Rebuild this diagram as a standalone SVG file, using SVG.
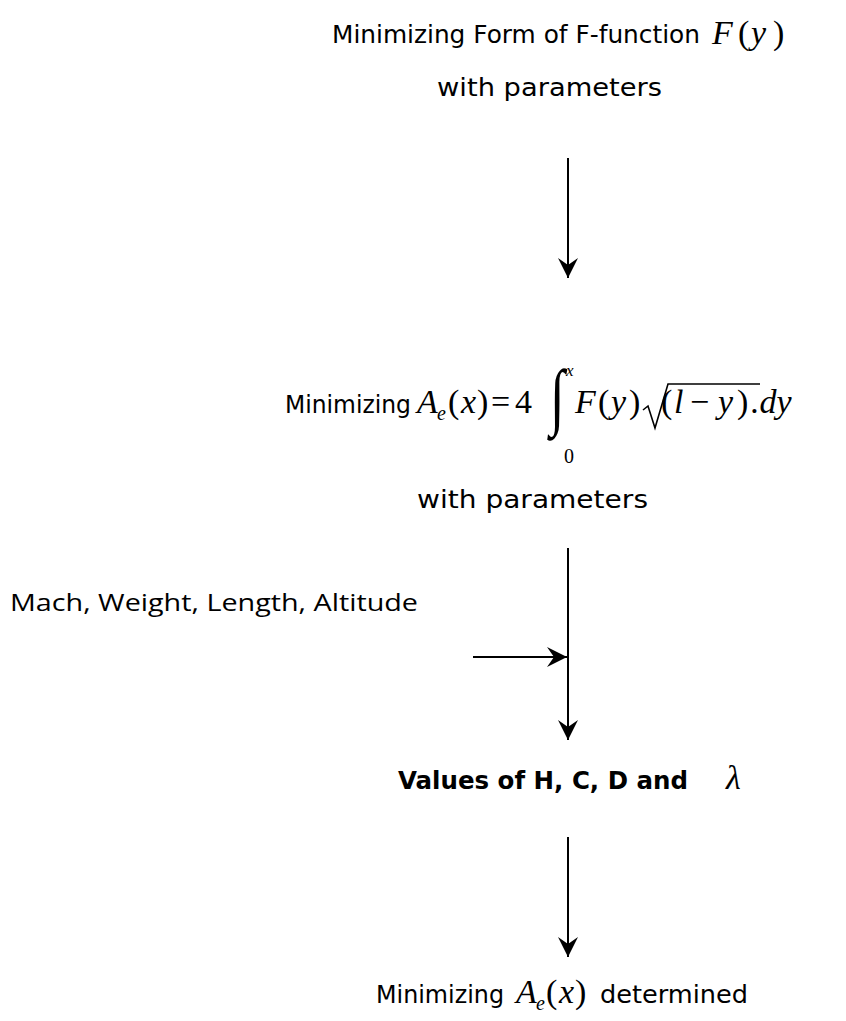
<svg xmlns="http://www.w3.org/2000/svg" width="846" height="1021" viewBox="0 0 846 1021">
<style>
.t{font-family:"DejaVu Sans","Verdana",sans-serif;font-size:25px;fill:#000}
.b{font-weight:bold}
.h{font-family:"Open Sans","Noto Sans",sans-serif;font-size:24px;fill:#000}
.m{font-family:"Liberation Serif","Times New Roman",serif;font-size:34px;fill:#000}
.mi{font-style:italic}
.sub{font-family:"Liberation Serif","Times New Roman",serif;font-size:20px;font-style:italic;fill:#000}
.c{stroke:#000;stroke-width:2;fill:none}
</style>
<defs>
<marker id="ah" markerUnits="userSpaceOnUse" markerWidth="22" markerHeight="22" viewBox="-21 -11 22 22" refX="0" refY="0" orient="auto">
<path d="M0,0 L-20,-10 L-13,0 L-20,10 Z" fill="#000"/>
</marker>
</defs>
<rect width="846" height="1021" fill="#fff"/>

<g id="n1">
<text class="t" x="332" y="43" textLength="368" lengthAdjust="spacingAndGlyphs">Minimizing Form of F-function</text>
<text class="m mi" x="712" y="44">F</text>
<text class="m" x="738" y="44">(</text>
<text class="m mi" x="751" y="44">y</text>
<text class="m" x="773" y="44">)</text>
<text class="t" x="437" y="96" textLength="225" lengthAdjust="spacingAndGlyphs">with parameters</text>
</g>

<g id="n2">
<text class="t" x="285" y="413" textLength="126" lengthAdjust="spacingAndGlyphs">Minimizing</text>
<text class="m mi" x="417" y="413">A</text>
<text class="sub" x="437" y="420">e</text>
<text class="m" x="448" y="413">(</text>
<text class="m mi" x="461" y="413">x</text>
<text class="m" x="477" y="413">)</text>
<text class="m" x="491" y="413">=</text>
<text class="m" x="515" y="413">4</text>
<text class="m" x="0" y="0" style="font-size:74px" transform="translate(550,421) scale(0.72,1)">∫</text>
<text class="sub" x="566" y="376" style="font-size:17px">x</text>
<text class="m" x="564" y="463" style="font-size:20px">0</text>
<text class="m mi" x="575" y="413">F</text>
<text class="m" x="598" y="413">(</text>
<text class="m mi" x="611" y="413">y</text>
<text class="m" x="629" y="413">)</text>
<path d="M643,410 L648,406 L655,428 L668,384 L760,384" stroke="#000" stroke-width="1.6" fill="none"/>
<text class="m" x="661" y="413">(</text>
<text class="m mi" x="674" y="413">l</text>
<text class="m" x="690" y="413">−</text>
<text class="m mi" x="718" y="413">y</text>
<text class="m" x="737" y="413">)</text>
<text class="m mi" x="751" y="413">.dy</text>
<text class="t" x="417" y="508" textLength="231" lengthAdjust="spacingAndGlyphs">with parameters</text>
</g>

<g id="n3">
<text class="h" x="10" y="611" textLength="408" lengthAdjust="spacingAndGlyphs">Mach, Weight, Length, Altitude</text>
</g>

<g id="n4">
<text class="t b" x="398" y="789" textLength="290" lengthAdjust="spacingAndGlyphs">Values of H, C, D and</text>
<text class="m mi" x="726" y="789">λ</text>
</g>

<g id="n5">
<text class="t" x="376" y="1003" textLength="128" lengthAdjust="spacingAndGlyphs">Minimizing</text>
<text class="m mi" x="516" y="1003">A</text>
<text class="sub" x="536" y="1010">e</text>
<text class="m" x="546" y="1003">(</text>
<text class="m mi" x="559" y="1003">x</text>
<text class="m" x="575" y="1003">)</text>
<text class="t" x="600" y="1003" textLength="148" lengthAdjust="spacingAndGlyphs">determined</text>
</g>

<g id="connectors">
<line class="c" x1="568" y1="158" x2="568" y2="278" marker-end="url(#ah)"/>
<line class="c" x1="568" y1="548" x2="568" y2="740" marker-end="url(#ah)"/>
<line class="c" x1="473" y1="657" x2="567" y2="657" marker-end="url(#ah)"/>
<line class="c" x1="568" y1="837" x2="568" y2="957" marker-end="url(#ah)"/>
</g>
</svg>
